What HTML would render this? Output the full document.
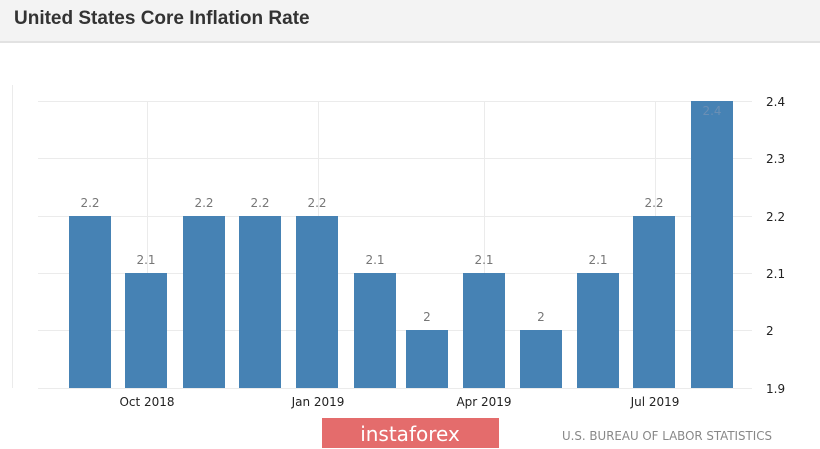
<!DOCTYPE html>
<html><head><style>
body{margin:0;width:820px;height:449px;background:#fff;overflow:hidden;font-family:"Liberation Sans",sans-serif;position:relative}
.hdr{position:absolute;left:0;top:0;width:820px;height:41px;background:#f3f3f3;border-bottom:2px solid #e2e2e2}
.hdr span{position:absolute;left:14px;top:8px;font-size:19px;font-weight:bold;color:#333}
</style></head><body>
<div class="hdr"><span>United States Core Inflation Rate</span></div>
<svg width="820" height="449" style="position:absolute;left:0;top:0" font-family="DejaVu Sans, sans-serif">
<g stroke="#ebebeb" stroke-width="1">
<line x1="38" x2="752" y1="101.5" y2="101.5"/><line x1="38" x2="752" y1="158.5" y2="158.5"/>
<line x1="38" x2="752" y1="216.5" y2="216.5"/><line x1="38" x2="752" y1="273.5" y2="273.5"/>
<line x1="38" x2="752" y1="330.5" y2="330.5"/><line x1="38" x2="752" y1="388.5" y2="388.5"/>
<line x1="147.5" x2="147.5" y1="101" y2="388"/><line x1="318.5" x2="318.5" y1="101" y2="388"/>
<line x1="484.5" x2="484.5" y1="101" y2="388"/><line x1="655.5" x2="655.5" y1="101" y2="388"/>
<line x1="12.5" x2="12.5" y1="85" y2="388"/>
</g>
<g fill="#4682b4">
<rect x="69" y="216" width="42" height="172"/><rect x="125" y="273" width="42" height="115"/>
<rect x="183" y="216" width="42" height="172"/><rect x="239" y="216" width="42" height="172"/>
<rect x="296" y="216" width="42" height="172"/><rect x="354" y="273" width="42" height="115"/>
<rect x="406" y="330" width="42" height="58"/><rect x="463" y="273" width="42" height="115"/>
<rect x="520" y="330" width="42" height="58"/><rect x="577" y="273" width="42" height="115"/>
<rect x="633" y="216" width="42" height="172"/><rect x="691" y="101" width="42" height="287"/>
</g>
<g fill="#777" font-size="12" text-anchor="middle">
<text x="90" y="207">2.2</text><text x="146" y="264">2.1</text><text x="204" y="207">2.2</text>
<text x="260" y="207">2.2</text><text x="317" y="207">2.2</text><text x="375" y="264">2.1</text>
<text x="427" y="321">2</text><text x="484" y="264">2.1</text><text x="541" y="321">2</text>
<text x="598" y="264">2.1</text><text x="654" y="207">2.2</text><text x="712" y="115" fill="#6a8fb5">2.4</text>
</g>
<g fill="#222" font-size="12">
<text x="766" y="106">2.4</text><text x="766" y="163">2.3</text><text x="766" y="221">2.2</text>
<text x="766" y="278">2.1</text><text x="766" y="335">2</text><text x="766" y="393">1.9</text>
</g>
<g fill="#222" font-size="12" text-anchor="middle">
<text x="147" y="406">Oct 2018</text><text x="318" y="406">Jan 2019</text>
<text x="484" y="406">Apr 2019</text><text x="655" y="406">Jul 2019</text>
</g>
<rect x="322" y="418" width="177" height="30" fill="#e46c6c"/>
<text x="410" y="441" fill="#fff" font-size="20" text-anchor="middle">instaforex</text>
<text x="562" y="440" fill="#888" font-size="12" textLength="210" lengthAdjust="spacingAndGlyphs">U.S. BUREAU OF LABOR STATISTICS</text>
</svg>
</body></html>
